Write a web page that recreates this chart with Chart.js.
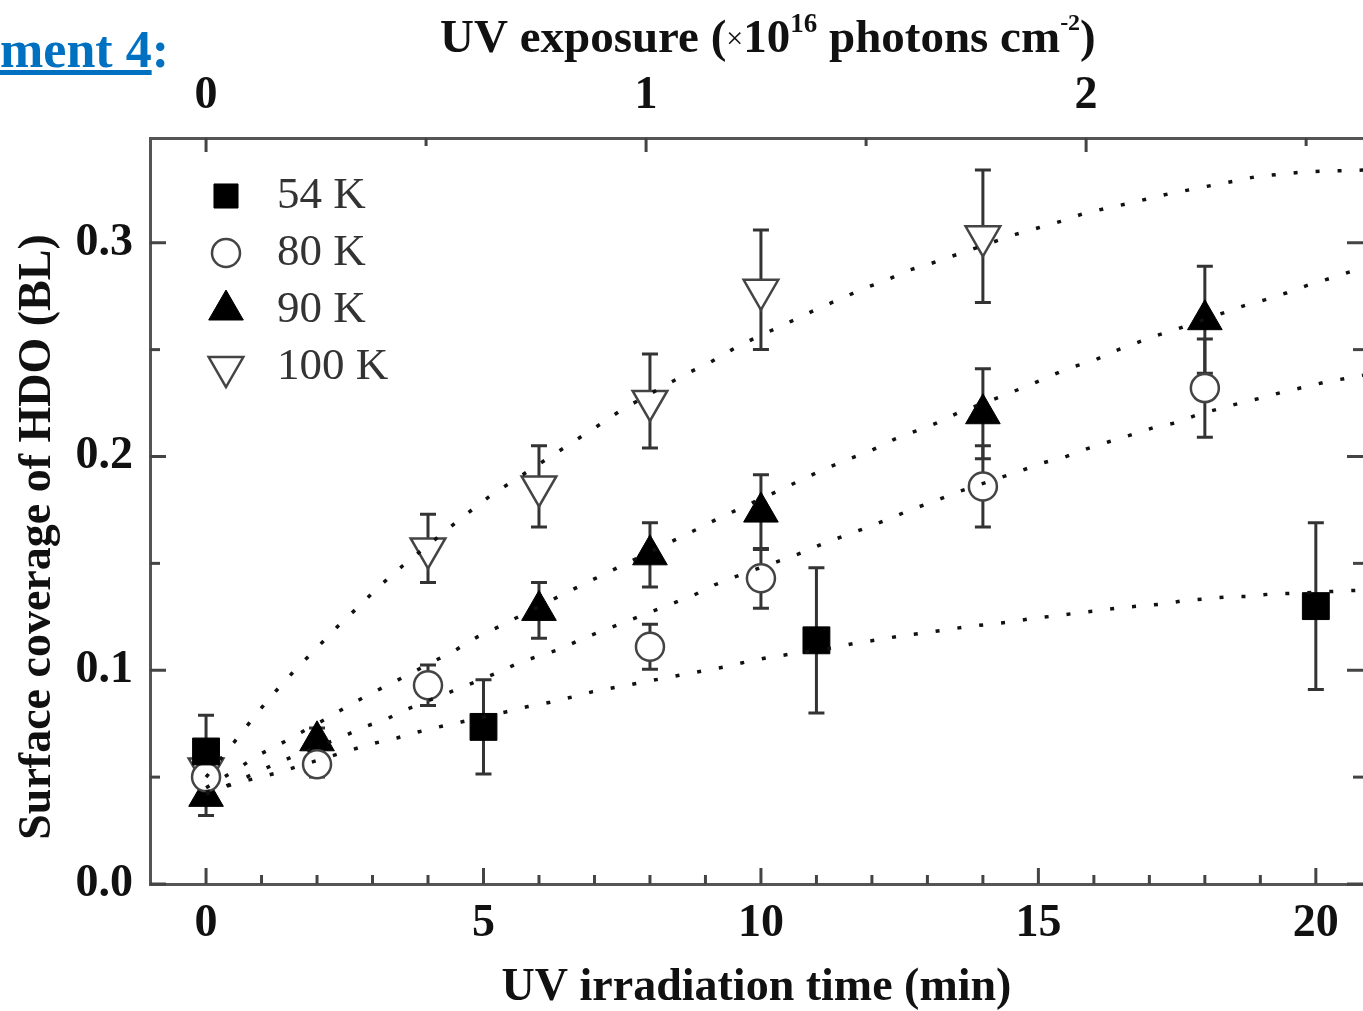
<!DOCTYPE html>
<html lang="en">
<head>
  <meta charset="UTF-8" />
  <title>HDO surface coverage vs UV irradiation time</title>
  <script src="https://cdn.jsdelivr.net/npm/chart.js"></script>
  <style>
    body {
      margin: 0;
      background: #fff;
    }

    #wrap {
      position: relative;
      width: 1363px;
      height: 1011px;
    }

    #tag {
      position: absolute;
      left: 0;
      top: 24px;
      font: bold 52px "Liberation Serif", serif;
      line-height: 52px;
      color: #0070c0;
      white-space: nowrap;
    }

    #tag span {
      text-decoration: underline;
    }
  </style>
</head>
<body>
  <div id="wrap">
    <canvas id="chart" width="1363" height="1011"></canvas>
    <div id="tag"><span>ment 4</span>:</div>
  </div>

  <script>
    // measured points (time in min, coverage in BL, error half-height)
    const times54 = [0, 5, 11, 20];
    const cov54 = [0.062, 0.0735, 0.114, 0.130];
    const err54 = [0.017, 0.022, 0.034, 0.039];

    const times80 = [0, 2, 4, 8, 10, 14, 18];
    const cov80 = [0.050, 0.056, 0.093, 0.111, 0.143, 0.186, 0.232];
    const err80 = [0.006, 0.006, 0.0095, 0.0105, 0.014, 0.019, 0.023];

    const times90 = [0, 2, 6, 8, 10, 14, 18];
    const cov90 = [0.041, 0.067, 0.128, 0.154, 0.174, 0.220, 0.264];
    const err90 = [0.009, 0.006, 0.013, 0.015, 0.0175, 0.021, 0.025];

    const times100 = [0, 4, 6, 8, 10, 14];
    const cov100 = [0.054, 0.157, 0.186, 0.226, 0.278, 0.303];
    const err100 = [0.008, 0.016, 0.019, 0.022, 0.028, 0.031];

    // dotted fit curves
    const fitT54 = [0, 0.67, 1.28, 2.65, 3.05, 3.44, 3.82, 4.2, 4.6, 5.4, 5.8, 6.2, 6.6, 6.97, 8.95, 9.36, 9.75, 10.14, 10.55, 11.3, 11.7, 12.1, 12.5, 12.9, 13.3, 13.7, 14.1, 14.5, 14.9, 15.3, 15.7, 16.05, 16.4, 16.8, 17.25, 17.6, 18.0, 18.4, 18.8, 19.2, 19.6, 20.4, 20.85];
    const fitV54 = [0.043, 0.048, 0.052, 0.063, 0.066, 0.0683, 0.0711, 0.0735, 0.0758, 0.0805, 0.083, 0.085, 0.0875, 0.090, 0.0997, 0.1016, 0.104, 0.106, 0.1076, 0.1105, 0.1127, 0.1142, 0.116, 0.1173, 0.1188, 0.1203, 0.1215, 0.1226, 0.1243, 0.1254, 0.1268, 0.1278, 0.129, 0.130, 0.131, 0.1325, 0.1334, 0.1343, 0.1346, 0.1357, 0.136, 0.137, 0.1375];

    const fitT80 = [0, 0.47, 0.9, 1.28, 2.47, 2.85, 3.24, 3.64, 4.45, 5.24, 5.63, 6.0, 6.4, 6.8, 8.78, 9.17, 9.53, 10.38, 10.74, 11.15, 11.55, 11.93, 12.32, 12.74, 13.1, 13.5, 14.3, 14.68, 15.08, 15.48, 15.87, 16.27, 16.67, 17.06, 17.48, 17.86, 18.25, 18.65, 19.04, 19.42, 19.82, 20.2, 20.6, 20.85];
    const fitV80 = [0.042, 0.047, 0.052, 0.0566, 0.069, 0.0735, 0.077, 0.082, 0.0903, 0.0987, 0.1034, 0.1067, 0.110, 0.115, 0.135, 0.140, 0.1437, 0.1516, 0.155, 0.1596, 0.1633, 0.167, 0.171, 0.1755, 0.1788, 0.183, 0.190, 0.1933, 0.197, 0.1998, 0.2036, 0.2069, 0.2101, 0.2134, 0.2158, 0.2195, 0.2223, 0.2251, 0.2275, 0.2303, 0.2326, 0.235, 0.2368, 0.238];

    const fitT90 = [0, 0.58, 0.92, 1.3, 1.72, 2.13, 2.5, 2.92, 3.32, 4.5, 4.89, 5.3, 6.47, 6.86, 8.45, 8.85, 9.23, 10.4, 10.8, 11.2, 11.6, 12.0, 12.4, 12.8, 13.17, 13.55, 14.36, 14.76, 15.15, 15.55, 15.95, 16.34, 16.72, 17.12, 17.51, 18.7, 19.08, 19.48, 19.87, 20.29, 20.67, 20.85];
    const fitV90 = [0.045, 0.054, 0.060, 0.065, 0.071, 0.0768, 0.0824, 0.0885, 0.0936, 0.1095, 0.1156, 0.1207, 0.136, 0.141, 0.161, 0.166, 0.171, 0.185, 0.190, 0.1947, 0.199, 0.203, 0.208, 0.212, 0.2157, 0.2204, 0.2284, 0.2326, 0.2368, 0.2415, 0.2443, 0.249, 0.2527, 0.2565, 0.2597, 0.2705, 0.2733, 0.2766, 0.2803, 0.2836, 0.2869, 0.288];

    const fitT100 = [0, 0.61, 0.92, 1.26, 1.6, 1.98, 2.38, 2.76, 3.13, 3.55, 4.34, 4.74, 5.12, 5.5, 7.1, 7.5, 8.29, 8.68, 9.08, 9.48, 9.86, 10.25, 10.65, 11.05, 11.44, 11.84, 12.24, 12.63, 13.0, 13.42, 14.6, 15.0, 15.4, 15.8, 16.2, 16.56, 16.98, 17.37, 17.77, 18.16, 18.56, 18.94, 19.35, 19.73, 20.13, 20.5, 20.85];
    const fitV100 = [0.050, 0.0697, 0.080, 0.0903, 0.100, 0.110, 0.1207, 0.130, 0.1395, 0.149, 0.1657, 0.174, 0.1816, 0.188, 0.215, 0.222, 0.2335, 0.239, 0.244, 0.250, 0.255, 0.2597, 0.2645, 0.2695, 0.2738, 0.2785, 0.2822, 0.2869, 0.2897, 0.2935, 0.304, 0.307, 0.310, 0.3135, 0.316, 0.318, 0.3206, 0.323, 0.325, 0.327, 0.329, 0.331, 0.332, 0.333, 0.3335, 0.3337, 0.334];

    const seriesLabels = ["54 K", "80 K", "90 K", "100 K"];
    const xMajor = [0, 5, 10, 15, 20];
    const yMajor = [0, 0.1, 0.2, 0.3];
    const topMajor = [0, 1, 2];

    const xMin = -1.01, xMax = 20.85, yMin = 0, yMax = 0.349;
    const minPerUnit = 7.93; // minutes per 1e16 photons cm^-2

    const serif = '"Liberation Serif", "Times New Roman", serif';
    const ink = "#111";

    const pts = (t, v) => t.map((x, i) => ({ x: x, y: v[i] }));

    const markerSeries = [
      { t: times54, v: cov54, e: err54, style: "rect", r: 19, rot: 0, fill: "#000", stroke: "#000", lw: 1 },
      { t: times80, v: cov80, e: err80, style: "circle", r: 14, rot: 0, fill: "#fff", stroke: "#444", lw: 2.5 },
      { t: times90, v: cov90, e: err90, style: "triangle", r: 20, rot: 0, fill: "#000", stroke: "#000", lw: 1 },
      { t: times100, v: cov100, e: err100, style: "triangle", r: 20, rot: 180, fill: "#fff", stroke: "#444", lw: 2.5 }
    ];

    const fitSeries = [[fitT54, fitV54], [fitT80, fitV80], [fitT90, fitV90], [fitT100, fitV100]];

    const datasets = [];
    fitSeries.forEach(([t, v], i) => {
      datasets.push({
        label: "fit " + seriesLabels[i],
        data: pts(t, v),
        showLine: true,
        borderColor: "#111",
        borderWidth: 3.5,
        borderDash: [4, 18],
        pointRadius: 0,
        fill: false,
        order: 0
      });
    });
    markerSeries.forEach((s, i) => {
      datasets.push({
        label: seriesLabels[i],
        data: pts(s.t, s.v),
        showLine: false,
        pointStyle: s.style,
        pointRadius: s.r,
        pointRotation: s.rot,
        pointBackgroundColor: s.fill,
        pointBorderColor: s.stroke,
        pointBorderWidth: s.lw,
        order: 1
      });
    });

    function drawMarker(ctx, s, x, y, r) {
      ctx.save();
      ctx.fillStyle = s.fill;
      ctx.strokeStyle = s.stroke;
      ctx.lineWidth = s.lw;
      ctx.beginPath();
      if (s.style === "rect") {
        const h = r * Math.SQRT1_2;
        ctx.rect(x - h, y - h, 2 * h, 2 * h);
      } else if (s.style === "circle") {
        ctx.arc(x, y, r, 0, Math.PI * 2);
      } else {
        let a = s.rot * Math.PI / 180;
        for (let k = 0; k < 3; k++) {
          const px = x + Math.sin(a) * r, py = y - Math.cos(a) * r;
          k === 0 ? ctx.moveTo(px, py) : ctx.lineTo(px, py);
          a += Math.PI * 2 / 3;
        }
        ctx.closePath();
      }
      ctx.fill();
      ctx.stroke();
      ctx.restore();
    }

    // error bars under the markers
    const errorBars = {
      id: "errorBars",
      beforeDatasetsDraw(chart) {
        const { ctx, chartArea: a, scales: { x, y } } = chart;
        ctx.save();
        ctx.beginPath();
        ctx.rect(a.left, a.top, a.width, a.height);
        ctx.clip();
        ctx.strokeStyle = "#333";
        ctx.lineWidth = 3;
        markerSeries.forEach(s => {
          s.t.forEach((t, i) => {
            const px = x.getPixelForValue(t);
            const hi = y.getPixelForValue(s.v[i] + s.e[i]);
            const lo = y.getPixelForValue(s.v[i] - s.e[i]);
            ctx.beginPath();
            ctx.moveTo(px, hi); ctx.lineTo(px, lo);
            ctx.moveTo(px - 8, hi); ctx.lineTo(px + 8, hi);
            ctx.moveTo(px - 8, lo); ctx.lineTo(px + 8, lo);
            ctx.stroke();
          });
        });
        ctx.restore();
      }
    };

    // inward tick marks, legend and the titles the scales can't do
    const decorations = {
      id: "decorations",
      afterDatasetsDraw(chart) {
        const { ctx, chartArea: a, scales } = chart;
        const x = scales.x, x2 = scales.x2, y = scales.y;
        ctx.save();
        ctx.strokeStyle = "#444";
        ctx.lineWidth = 3;
        const seg = (x0, y0, x1, y1) => {
          ctx.beginPath(); ctx.moveTo(x0, y0); ctx.lineTo(x1, y1); ctx.stroke();
        };
        for (let m = 0; m <= 20; m++) {
          const px = x.getPixelForValue(m);
          seg(px, a.bottom, px, a.bottom - (xMajor.includes(m) ? 16 : 9));
        }
        for (let u = 0; u <= 2.5; u += 0.5) {
          const px = x2.getPixelForValue(u);
          seg(px, a.top, px, a.top + (topMajor.includes(u) ? 14 : 8));
        }
        for (let k = 0; k <= 6; k++) {
          const v = k * 0.05;
          const py = y.getPixelForValue(v);
          const len = k % 2 === 0 ? 16 : 10;
          seg(a.left, py, a.left + len, py);
          seg(a.right, py, a.right - len, py);
        }

        // legend
        markerSeries.forEach((s, i) => {
          const ly = 196 + i * 57;
          drawMarker(ctx, s, 226, ly, s.style === "rect" ? 17 : (s.style === "circle" ? 14 : 20));
          ctx.fillStyle = "#333";
          ctx.font = "45px " + serif;
          ctx.textAlign = "left";
          ctx.textBaseline = "middle";
          ctx.fillText(seriesLabels[i], 277, ly);
        });

        // y axis title
        ctx.save();
        ctx.translate(38, 537);
        ctx.rotate(-Math.PI / 2);
        ctx.fillStyle = ink;
        ctx.font = "bold 46px " + serif;
        ctx.textAlign = "center";
        ctx.textBaseline = "middle";
        ctx.fillText("Surface coverage of HDO (BL)", 0, 0);
        ctx.restore();

        // top axis title with superscripts
        const parts = [
          { t: "UV exposure (", f: "bold 47px " + serif, dy: 0 },
          { t: "×", f: "30px " + serif, dy: -4 },
          { t: "10", f: "bold 47px " + serif, dy: 0 },
          { t: "16", f: "bold 27px " + serif, dy: -20 },
          { t: " photons cm", f: "bold 47px " + serif, dy: 0 },
          { t: "-2", f: "bold 24px " + serif, dy: -22 },
          { t: ")", f: "bold 47px " + serif, dy: 0 }
        ];
        let tx = 440;
        ctx.fillStyle = ink;
        ctx.textAlign = "left";
        ctx.textBaseline = "alphabetic";
        parts.forEach(p => {
          ctx.font = p.f;
          ctx.fillText(p.t, tx, 52 + p.dy);
          tx += ctx.measureText(p.t).width;
        });
        ctx.restore();
      }
    };

    const tickFont = { family: serif, size: 46, weight: "bold" };
    const border = { display: true, color: "#555", width: 3 };
    // fixed box sizes so the plot area lands where the original one is
    const fixBox = (w, h) => s => {
      if (w !== null) s.width = w;
      if (h !== null) s.height = h;
      s.paddingLeft = 0; s.paddingRight = 0; s.paddingTop = 0; s.paddingBottom = 0;
    };

    new Chart(document.getElementById("chart"), {
      type: "scatter",
      data: { datasets: datasets },
      options: {
        responsive: false,
        animation: false,
        layout: { padding: 0, autoPadding: false },
        scales: {
          x: {
            type: "linear",
            position: "bottom",
            min: xMin,
            max: xMax,
            afterFit: fixBox(null, 127),
            grid: { display: false },
            border: border,
            ticks: {
              stepSize: 5,
              includeBounds: false,
              font: tickFont,
              color: ink,
              padding: 5,
              callback: v => String(Math.round(v))
            },
            title: {
              display: true,
              text: "UV irradiation time (min)",
              color: ink,
              font: { family: serif, size: 46, weight: "bold", lineHeight: 1 },
              padding: { top: 0, bottom: 0 }
            }
          },
          x2: {
            type: "linear",
            position: "top",
            min: xMin / minPerUnit,
            max: xMax / minPerUnit,
            afterFit: fixBox(null, 138),
            grid: { display: false },
            border: border,
            ticks: {
              stepSize: 1,
              includeBounds: false,
              font: tickFont,
              color: ink,
              padding: 6,
              callback: v => String(Math.round(v))
            }
          },
          y: {
            type: "linear",
            position: "left",
            min: yMin,
            max: yMax,
            afterFit: fixBox(150, null),
            grid: { display: false },
            border: border,
            ticks: {
              stepSize: 0.1,
              includeBounds: false,
              font: tickFont,
              color: ink,
              padding: 9,
              callback: v => v.toFixed(1)
            }
          }
        },
        plugins: {
          legend: { display: false },
          tooltip: { enabled: false }
        }
      },
      plugins: [errorBars, decorations]
    });
  </script>
</body>
</html>
